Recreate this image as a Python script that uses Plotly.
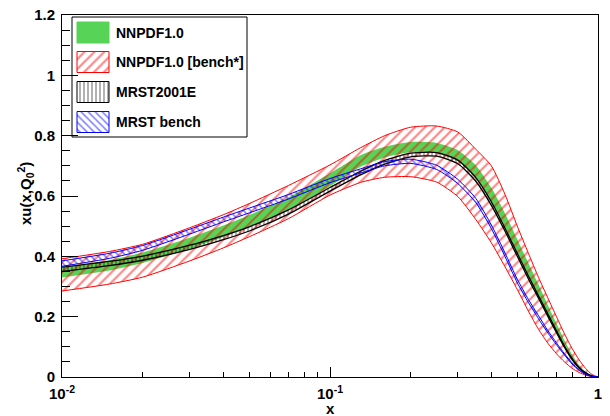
import plotly.graph_objects as go

# x grid
x = [0.01, 0.015, 0.02, 0.03, 0.04, 0.05, 0.07, 0.1, 0.13, 0.16, 0.2, 0.25, 0.3,
     0.35, 0.4, 0.45, 0.5, 0.55, 0.6, 0.65, 0.7, 0.75, 0.8, 0.85, 0.9, 0.95, 1.0]

# NNPDF1.0 (green band)
nn_lo = [0.330, 0.353, 0.378, 0.425, 0.464, 0.497, 0.553, 0.632, 0.697, 0.728, 0.745, 0.742, 0.715,
         0.662, 0.582, 0.497, 0.414, 0.338, 0.271, 0.210, 0.153, 0.103, 0.062, 0.032, 0.013, 0.003, 0.0]
nn_hi = [0.362, 0.387, 0.413, 0.462, 0.502, 0.537, 0.595, 0.675, 0.735, 0.763, 0.779, 0.776, 0.752,
         0.702, 0.627, 0.542, 0.456, 0.377, 0.306, 0.238, 0.177, 0.121, 0.075, 0.040, 0.017, 0.004, 0.0]

# NNPDF1.0 [bench*] (red hatched band)
nb_lo = [0.285, 0.308, 0.331, 0.385, 0.428, 0.465, 0.525, 0.603, 0.645, 0.662, 0.664, 0.646, 0.598,
         0.522, 0.445, 0.365, 0.290, 0.218, 0.158, 0.112, 0.077, 0.050, 0.029, 0.015, 0.006, 0.001, 0.0]
nb_hi = [0.392, 0.416, 0.440, 0.495, 0.538, 0.575, 0.635, 0.703, 0.760, 0.800, 0.828, 0.832, 0.812,
         0.755, 0.700, 0.605, 0.500, 0.410, 0.330, 0.262, 0.200, 0.143, 0.095, 0.057, 0.028, 0.008, 0.0]

# MRST2001E (black band)
mr_lo = [0.350, 0.369, 0.387, 0.423, 0.455, 0.484, 0.540, 0.616, 0.670, 0.706, 0.730, 0.732, 0.707,
         0.649, 0.569, 0.483, 0.400, 0.325, 0.261, 0.201, 0.147, 0.098, 0.058, 0.030, 0.012, 0.003, 0.0]
mr_hi = [0.364, 0.383, 0.401, 0.437, 0.469, 0.498, 0.554, 0.628, 0.682, 0.718, 0.742, 0.744, 0.719,
         0.661, 0.581, 0.493, 0.410, 0.335, 0.269, 0.209, 0.153, 0.102, 0.062, 0.032, 0.014, 0.003, 0.0]

# MRST bench (blue band)
mb_lo = [0.367, 0.393, 0.420, 0.474, 0.514, 0.544, 0.590, 0.644, 0.676, 0.700, 0.708, 0.688, 0.641,
         0.578, 0.492, 0.399, 0.312, 0.247, 0.193, 0.146, 0.107, 0.073, 0.043, 0.022, 0.008, 0.002, 0.0]
mb_hi = [0.385, 0.410, 0.436, 0.490, 0.530, 0.560, 0.605, 0.658, 0.690, 0.714, 0.722, 0.702, 0.655,
         0.592, 0.504, 0.411, 0.324, 0.257, 0.203, 0.154, 0.113, 0.077, 0.047, 0.024, 0.010, 0.002, 0.0]

series_names = ["NNPDF1.0", "NNPDF1.0 [bench*]", "MRST2001E", "MRST bench"]

x_ticks = [0.01, 0.1, 1]
x_ticktext = ["10<sup>-2</sup>", "10<sup>-1</sup>", "1"]
x_minor = [0.02, 0.03, 0.04, 0.05, 0.06, 0.07, 0.08, 0.09,
           0.2, 0.3, 0.4, 0.5, 0.6, 0.7, 0.8, 0.9]
y_ticks = [0, 0.2, 0.4, 0.6, 0.8, 1.0, 1.2]
y_ticktext = ["0", "0.2", "0.4", "0.6", "0.8", "1", "1.2"]
x_title = "x"
y_title = "xu(x,Q<sub>0</sub><sup>2</sup>)"

# ---- styles ----
GREEN = "#57d457"
styles = [
    dict(color=GREEN, width=0, pattern=None, fill=GREEN),
    dict(color="#ff0000", width=1,
         pattern=dict(shape="/", fgcolor="#ff0000", bgcolor="rgba(0,0,0,0)", size=7, solidity=0.28), fill=None),
    dict(color="#000000", width=1.3,
         pattern=dict(shape="|", fgcolor="#000000", bgcolor="rgba(0,0,0,0)", size=4, solidity=0.3), fill=None),
    dict(color="#0000ff", width=1,
         pattern=dict(shape="\\", fgcolor="#0000ff", bgcolor="rgba(0,0,0,0)", size=5, solidity=0.3), fill=None),
]
bands = [(nn_lo, nn_hi), (nb_lo, nb_hi), (mr_lo, mr_hi), (mb_lo, mb_hi)]

fig = go.Figure()

for (lo, hi), st, name in zip(bands, styles, series_names):
    ln = dict(color=st["color"], width=st["width"], shape="spline", smoothing=0.6)
    fig.add_trace(go.Scatter(x=x, y=lo, mode="lines", line=ln, showlegend=False, hoverinfo="skip"))
    kw = {}
    if st["pattern"] is not None:
        kw["fillpattern"] = st["pattern"]
        kw["fillcolor"] = "rgba(0,0,0,0)"
    else:
        kw["fillcolor"] = st["fill"]
    fig.add_trace(go.Scatter(x=x, y=hi, mode="lines", name=name, fill="tonexty",
                             line=ln, showlegend=False, hoverinfo="skip", **kw))

# ---- page geometry (the page body has an 8px default margin) ----
PAGE_OFF = 8
L, R, T, B = 62, 598, 15, 377          # plot frame in page pixels
FIG_W, FIG_H = 610 - PAGE_OFF, 416 - PAGE_OFF
PW, PH = R - L, B - T


def u(px):
    return (px - L) / PW


def v(py):
    return (B - py) / PH


# ---- hand-drawn ROOT-style legend on an overlay axis ----
box = (72, 247, 17, 137)
fig.add_trace(go.Scatter(
    x=[u(box[0]), u(box[1]), u(box[1]), u(box[0]), u(box[0])],
    y=[v(box[2]), v(box[2]), v(box[3]), v(box[3]), v(box[2])],
    mode="lines", fill="toself", fillcolor="white", line=dict(color="black", width=1),
    xaxis="x2", yaxis="y2", showlegend=False, hoverinfo="skip"))

centers = [32.5, 62, 92, 122]
for cy, st, name in zip(centers, styles, series_names):
    x0, x1, y0, y1 = 77, 109, cy - 10.5, cy + 10.5
    kw = {}
    if st["pattern"] is not None:
        kw["fillpattern"] = st["pattern"]
        kw["fillcolor"] = "rgba(0,0,0,0)"
        lc = st["color"]
    else:
        kw["fillcolor"] = st["fill"]
        lc = st["fill"]
    fig.add_trace(go.Scatter(
        x=[u(x0), u(x1), u(x1), u(x0), u(x0)],
        y=[v(y0), v(y0), v(y1), v(y1), v(y0)],
        mode="lines", fill="toself", line=dict(color=lc, width=1),
        xaxis="x2", yaxis="y2", showlegend=False, hoverinfo="skip", **kw))
    fig.add_annotation(x=u(114), y=v(cy), xref="paper", yref="paper", text=name,
                       showarrow=False, xanchor="left", yanchor="middle",
                       font=dict(size=14, weight="bold", color="black"))

# axis titles
fig.add_annotation(x=0.5, y=v(408), xref="paper", yref="paper", text=x_title,
                   showarrow=False, xanchor="center", yanchor="middle",
                   font=dict(size=15, weight="bold", color="black"))
fig.add_annotation(x=u(25), y=v(194), xref="paper", yref="paper", text=y_title,
                   showarrow=False, xanchor="center", yanchor="middle", textangle=-90,
                   font=dict(size=15, weight="bold", color="black"))

fig.update_layout(
    width=FIG_W, height=FIG_H,
    margin=dict(l=L - PAGE_OFF, r=FIG_W + PAGE_OFF - R, t=T - PAGE_OFF, b=FIG_H + PAGE_OFF - B),
    paper_bgcolor="white", plot_bgcolor="white",
    font=dict(family="Liberation Sans", size=15, color="black", weight="bold"),
    showlegend=False,
    xaxis=dict(type="log", range=[-2, 0], showgrid=False, zeroline=False, automargin=False,
               showline=True, mirror=True, linecolor="black", linewidth=1,
               ticks="inside", ticklen=10, tickcolor="black",
               tickmode="array", tickvals=x_ticks, ticktext=x_ticktext,
               minor=dict(ticks="inside", ticklen=5, tickcolor="black", tickmode="array", tickvals=x_minor),
               ticklabelstandoff=3, ticklabeloverflow="allow"),
    yaxis=dict(range=[0, 1.2], showgrid=False, zeroline=False, automargin=False,
               showline=True, mirror=True, linecolor="black", linewidth=1,
               ticks="inside", ticklen=16, tickcolor="black",
               tickmode="array", tickvals=y_ticks, ticktext=y_ticktext,
               minor=dict(ticks="inside", ticklen=8, tickcolor="black", dtick=0.05),
               ticklabelstandoff=3, ticklabeloverflow="allow"),
    xaxis2=dict(overlaying="x", range=[0, 1], visible=False, fixedrange=True, automargin=False),
    yaxis2=dict(overlaying="y", range=[0, 1], visible=False, fixedrange=True, automargin=False),
)

fig.write_html("out.html")
